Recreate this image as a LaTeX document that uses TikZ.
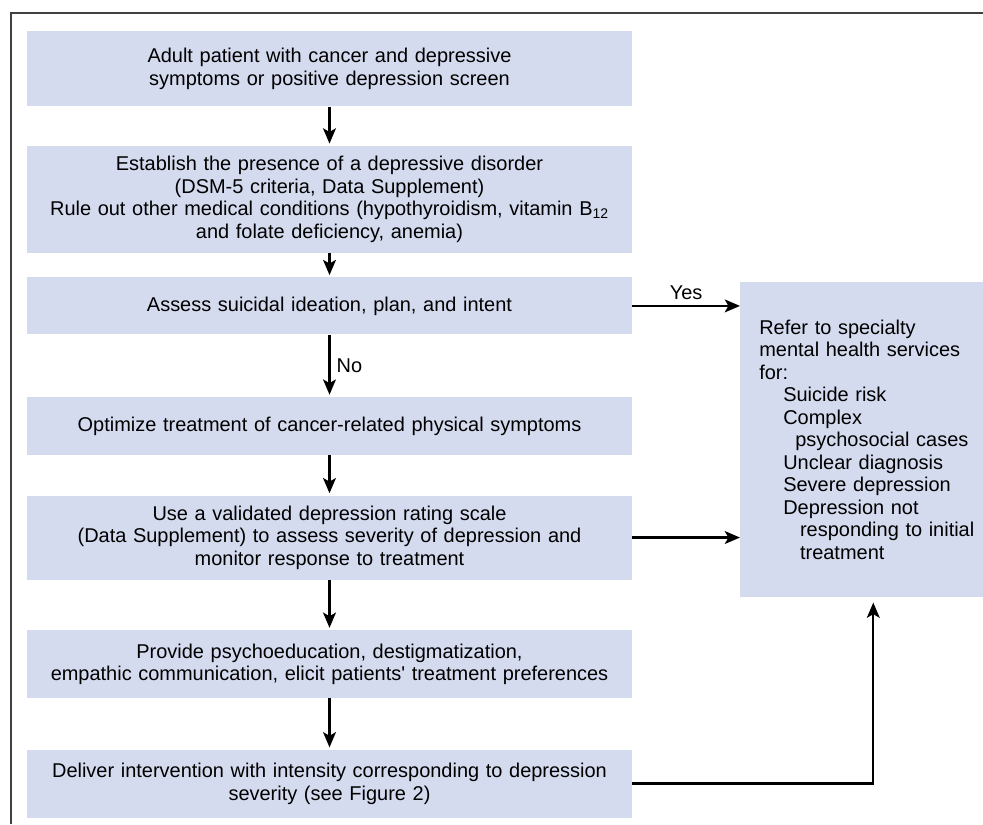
\documentclass[tikz,border=0pt]{standalone}
\usepackage{fontspec}
\setmainfont{Liberation Sans}
\usepackage{tikz}
\usetikzlibrary{arrows.meta,calc}
\usepackage{xcolor}
\definecolor{boxblue}{RGB}{213,219,239}

\begin{document}
\begin{tikzpicture}[font=\fontsize{14.2}{16}\selectfont,
    stepbox/.style={fill=boxblue, anchor=north, text width=14.525cm, inner xsep=0.3cm, inner ysep=0pt, align=center},
    referbox/.style={fill=boxblue, anchor=north west, text width=5.7cm, inner xsep=0.475cm, inner ysep=0pt, minimum height=7.875cm, align=left},
    arr/.style={-{Stealth[length=3.8mm,width=3.2mm,inset=0.9mm]}, line width=1.7pt, shorten >=0.05cm},
    frame/.style={line width=1.3pt, black!75}]

    \useasboundingbox (0,0) rectangle (24.575,-20.6);
    \draw[frame] (0.275,-20.6) -- (0.275,-0.325) -- (24.575,-0.325);

    \node[stepbox, minimum height=1.875cm] at (8.2375,-0.775) (b1) {Adult patient with cancer and depressive\\ symptoms or positive depression screen};
    \node[stepbox, minimum height=2.675cm] at ($(b1.south)+(0,-0.975)$) (b2) {Establish the presence of a depressive disorder\\ (DSM-5 criteria, Data Supplement)\\ Rule out other medical conditions (hypothyroidism, vitamin B\textsubscript{12}\\ and folate deficiency, anemia)};
    \node[stepbox, minimum height=1.425cm] at ($(b2.south)+(0,-0.6)$) (b3) {Assess suicidal ideation, plan, and intent};
    \node[stepbox, minimum height=1.45cm] at ($(b3.south)+(0,-1.55)$) (b4) {Optimize treatment of cancer-related physical symptoms};
    \node[stepbox, minimum height=2.1cm] at ($(b4.south)+(0,-1)$) (b5) {Use a validated depression rating scale\\ (Data Supplement) to assess severity of depression and\\ monitor response to treatment};
    \node[stepbox, minimum height=1.7cm] at ($(b5.south)+(0,-1.25)$) (b6) {Provide psychoeducation, destigmatization,\\ empathic communication, elicit patients\textquotesingle{} treatment preferences};
    \node[stepbox, minimum height=1.7cm] at ($(b6.south)+(0,-1.275)$) (b7) {Deliver intervention with intensity corresponding to depression\\ severity (see Figure 2)};
    \node[referbox] at (18.5,-7.05) (refer) {Refer to specialty\\ mental health services\\ for:\\
        \hspace*{0.6cm}Suicide risk\\ \hspace*{0.6cm}Complex\\ \hspace*{0.9cm}psychosocial cases\\
        \hspace*{0.6cm}Unclear diagnosis\\ \hspace*{0.6cm}Severe depression\\ \hspace*{0.6cm}Depression not\\
        \hspace*{1.02cm}responding to initial\\ \hspace*{1.02cm}treatment};

    \draw[arr] (b1) -- (b2);
    \draw[arr] (b2) -- (b3);
    \draw[arr] (b3) -- node[midway, right, inner xsep=0.15cm] {No} (b4);
    \draw[arr] (b4) -- (b5);
    \draw[arr] (b5) -- (b6);
    \draw[arr] (b6) -- (b7);
    \draw[arr, shorten >=0pt] (b3.east) -- node[midway, above] {Yes} (b3.east -| refer.west);
    \draw[arr, shorten >=0pt] (b5.east) -- (b5.east -| refer.west);
    \draw[arr, shorten >=0.125cm] (b7.east) -| (refer.south);
\end{tikzpicture}
\end{document}
